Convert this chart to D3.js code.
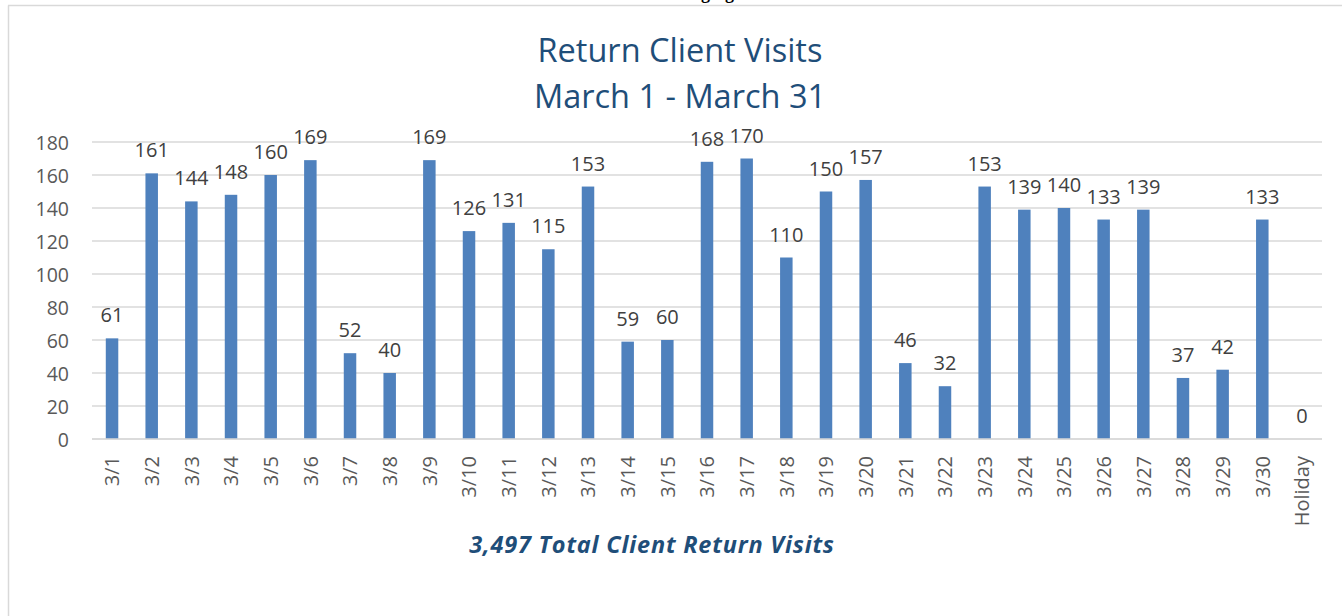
<!DOCTYPE html>
<html><head><meta charset="utf-8">
<script src="https://cdn.jsdelivr.net/npm/d3@7"></script>
<style>body{margin:0;background:#fff;}svg{display:block;}</style>
</head><body>
<svg id="c" width="1342" height="616"></svg>
<script>
const categories = ["3/1","3/2","3/3","3/4","3/5","3/6","3/7","3/8","3/9","3/10","3/11","3/12","3/13","3/14","3/15","3/16","3/17","3/18","3/19","3/20","3/21","3/22","3/23","3/24","3/25","3/26","3/27","3/28","3/29","3/30","Holiday"];
const visits = [61,161,144,148,160,169,52,40,169,126,131,115,153,59,60,168,170,110,150,157,46,32,153,139,140,133,139,37,42,133,0];
const yTicks = [0,20,40,60,80,100,120,140,160,180];
const titleLines = ["Return Client Visits","March 1 - March 31"];
const subtitle = "3,497 Total Client Return Visits";

const svg = d3.select("#c");
const font = "'Open Sans', sans-serif";

// frame
svg.append("line").attr("x1",8.5).attr("x2",8.5).attr("y1",5.5).attr("y2",616).attr("stroke","#d9d9d9").attr("stroke-width",1.5);
svg.append("line").attr("x1",8).attr("x2",1342).attr("y1",5.5).attr("y2",5.5).attr("stroke","#d9d9d9").attr("stroke-width",1.5);
// cut-off header text above frame
svg.append("text").attr("x",702).attr("y",-1).attr("text-anchor","middle")
  .attr("font-family","'Liberation Serif', serif").attr("font-weight","bold").attr("font-size",18)
  .attr("fill","#000").text("Imaging");

const x = d3.scaleBand().domain(categories).range([92.2,1321.8]).paddingInner(0.685).paddingOuter(0.3425);
const y = d3.scaleLinear().domain([0,180]).range([439,142]);

// gridlines
svg.append("g").selectAll("line").data(yTicks).join("line")
  .attr("x1",92).attr("x2",1322).attr("y1",d=>y(d)).attr("y2",d=>y(d))
  .attr("stroke","#d9d9d9").attr("stroke-width",1.3);

// y axis labels
const yAxis = d3.axisLeft(y).tickValues(yTicks).tickSize(0).tickPadding(0);
const ya = svg.append("g").attr("transform","translate(69,0)").call(yAxis);
ya.select(".domain").remove();
ya.selectAll("text").attr("font-family",font).attr("font-size",19.5).attr("fill","#595959").attr("dy","0.36em");

// bars
svg.append("g").selectAll("rect").data(visits).join("rect")
  .attr("x",(d,i)=>x(categories[i])).attr("width",x.bandwidth())
  .attr("y",d=>y(d)).attr("height",d=>y(0)-y(d)).attr("fill","#4f81bd");

// value labels
svg.append("g").selectAll("text").data(visits).join("text")
  .attr("x",(d,i)=>x(categories[i])+x.bandwidth()/2).attr("y",d=>y(d)-16)
  .attr("text-anchor","middle").attr("font-family",font).attr("font-size",20).attr("fill","#404040")
  .text(d=>d);

// x axis labels
const xAxis = d3.axisBottom(x).tickSize(0).tickPadding(0);
const xa = svg.append("g").attr("transform","translate(0,439)").call(xAxis);
xa.select(".domain").attr("stroke","#d9d9d9").attr("stroke-width",1.3).attr("d","M92,0H1322");
xa.selectAll("text").attr("font-family",font).attr("font-size",20).attr("fill","#595959")
  .attr("transform","rotate(-90)").attr("text-anchor","end").attr("x",-17).attr("y",0).attr("dy","0.36em");

// title
svg.append("g").selectAll("text").data(titleLines).join("text")
  .attr("x",680).attr("y",(d,i)=>62+i*46).attr("text-anchor","middle")
  .attr("font-family",font).attr("font-size",32.5).attr("fill","#1f4e79").text(d=>d);

svg.append("text").attr("x",652).attr("y",553).attr("text-anchor","middle")
  .attr("font-family",font).attr("font-size",23.5).attr("font-weight","bold").attr("font-style","italic")
  .attr("letter-spacing",0.8)
  .attr("fill","#1f4e79").text(subtitle);
</script>
</body></html>
